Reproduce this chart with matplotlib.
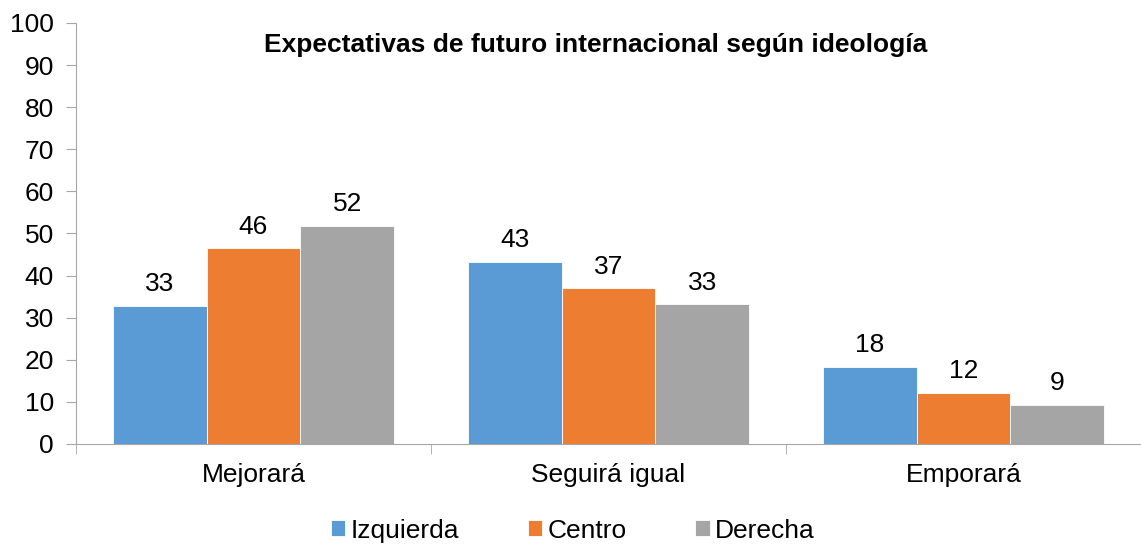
import numpy as np
import matplotlib.pyplot as plt

plt.rcParams['font.family'] = ['Liberation Sans', 'DejaVu Sans']

# Datos
categorias = ["Mejorará", "Seguirá igual", "Emporará"]
izquierda = [32.8, 43.3, 18.3]
centro = [46.5, 37.0, 12.2]
derecha = [51.8, 33.2, 9.3]
series = ["Izquierda", "Centro", "Derecha"]
colores = ["#5B9BD5", "#ED7D31", "#A5A5A5"]

fig = plt.figure(figsize=(11.41, 5.47), dpi=100)
ax = fig.add_axes([0.0666, 0.1883, 0.9334, 0.7697])

x = np.arange(len(categorias))
w = 0.264
for i, (vals, nombre, col) in enumerate(zip([izquierda, centro, derecha], series, colores)):
    pos = x + (i - 1) * w
    ax.bar(pos, vals, width=w, color=col, edgecolor="white", linewidth=0.6, label=nombre)
    for p, v in zip(pos, vals):
        ax.text(p, v + 2.3, f"{v:.0f}", ha="center", va="bottom", fontsize=19)

ax.set_xlim(-0.5, 2.5)
ax.set_ylim(0, 100)
ax.set_yticks(range(0, 101, 10))
ax.set_xticks(x)
ax.set_xticklabels(categorias)
ax.set_xticks([-0.5, 0.5, 1.5, 2.5], minor=True)
ax.tick_params(axis="x", which="major", length=0, pad=14, labelsize=19)
ax.tick_params(axis="x", which="minor", length=7, color="#A6A6A6")
ax.tick_params(axis="y", length=7, color="#A6A6A6", labelsize=19, pad=9)

for s in ["top", "right"]:
    ax.spines[s].set_visible(False)
for s in ["left", "bottom"]:
    ax.spines[s].set_color("#A6A6A6")

fig.text(0.522, 0.917, "Expectativas de futuro internacional según ideología",
         ha="center", va="center", fontsize=19, fontweight="bold")

fig.legend(loc="center", bbox_to_anchor=(0.502, 0.03), ncol=3, frameon=False,
           fontsize=19, handlelength=0.55, handleheight=0.55, handletextpad=0.2,
           columnspacing=2.6)

fig.savefig("out.png", dpi=100)
